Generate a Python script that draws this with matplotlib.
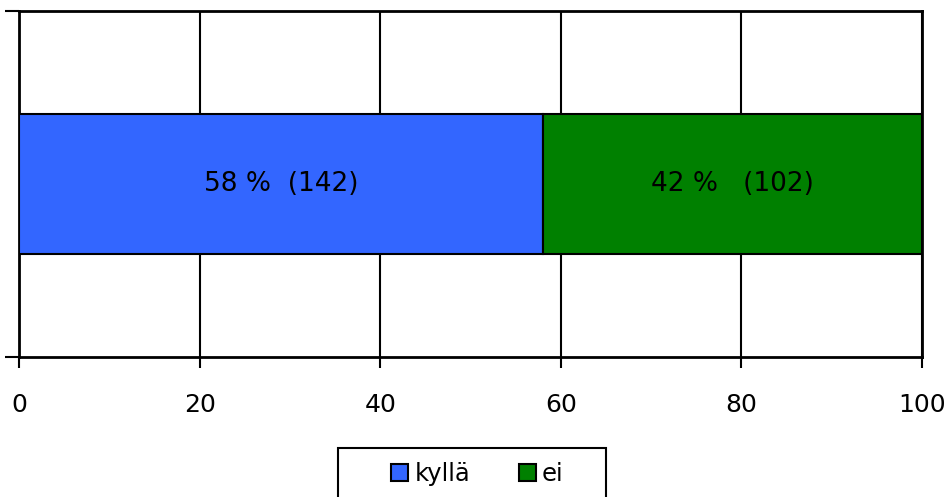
import matplotlib.pyplot as plt
from matplotlib.patches import Patch, Rectangle

categories = ['kyllä', 'ei']
percents = [58, 42]
counts = [142, 102]
labels = ['58 %  (142)', '42 %   (102)']
colors = ['#3366FF', '#008000']
xticks = [0, 20, 40, 60, 80, 100]

fig = plt.figure(figsize=(9.51, 4.97), dpi=100)
ax = fig.add_axes([0.020, 0.2817, 0.9495, 0.6962])

left = 0
for cat, p, lab, c in zip(categories, percents, labels, colors):
    ax.barh(0, p, left=left, height=0.405, color=c, edgecolor='black',
            linewidth=1.5, label=cat, zorder=3)
    ax.text(left + p / 2, 0, lab, ha='center', va='center', fontsize=19,
            color='black', zorder=4)
    left += p

ax.set_xlim(0, 100)
ax.set_ylim(-0.5, 0.5)
ax.set_xticks(xticks)
ax.set_xticklabels([str(t) for t in xticks], fontsize=18)
ax.set_yticks([-0.5, 0.5])
ax.set_yticklabels([])
ax.tick_params(axis='x', length=8, width=1.5, pad=18, color='black')
ax.tick_params(axis='y', length=10, width=1.5, color='black')
ax.grid(axis='x', color='black', linewidth=1.5, zorder=0)
for s in ax.spines.values():
    s.set_color('black')
    s.set_linewidth(2)

# legend: entries without frame, box drawn separately (wide side margins)
handles = [Patch(facecolor=c, edgecolor='black', linewidth=1.5) for c in colors]
leg = fig.legend(handles, categories, loc='center', bbox_to_anchor=(0.502, 0.046),
                 ncol=2, fontsize=17.5, frameon=False,
                 handlelength=0.7, handleheight=0.7, handletextpad=0.25,
                 columnspacing=2.0, borderpad=0, borderaxespad=0)
fig.patches.append(Rectangle((338 / 951, -0.1), 268 / 951, 0.1 + 49 / 497,
                             transform=fig.transFigure, fill=False,
                             edgecolor='black', linewidth=1.5))

fig.savefig('out.png', dpi=100)
